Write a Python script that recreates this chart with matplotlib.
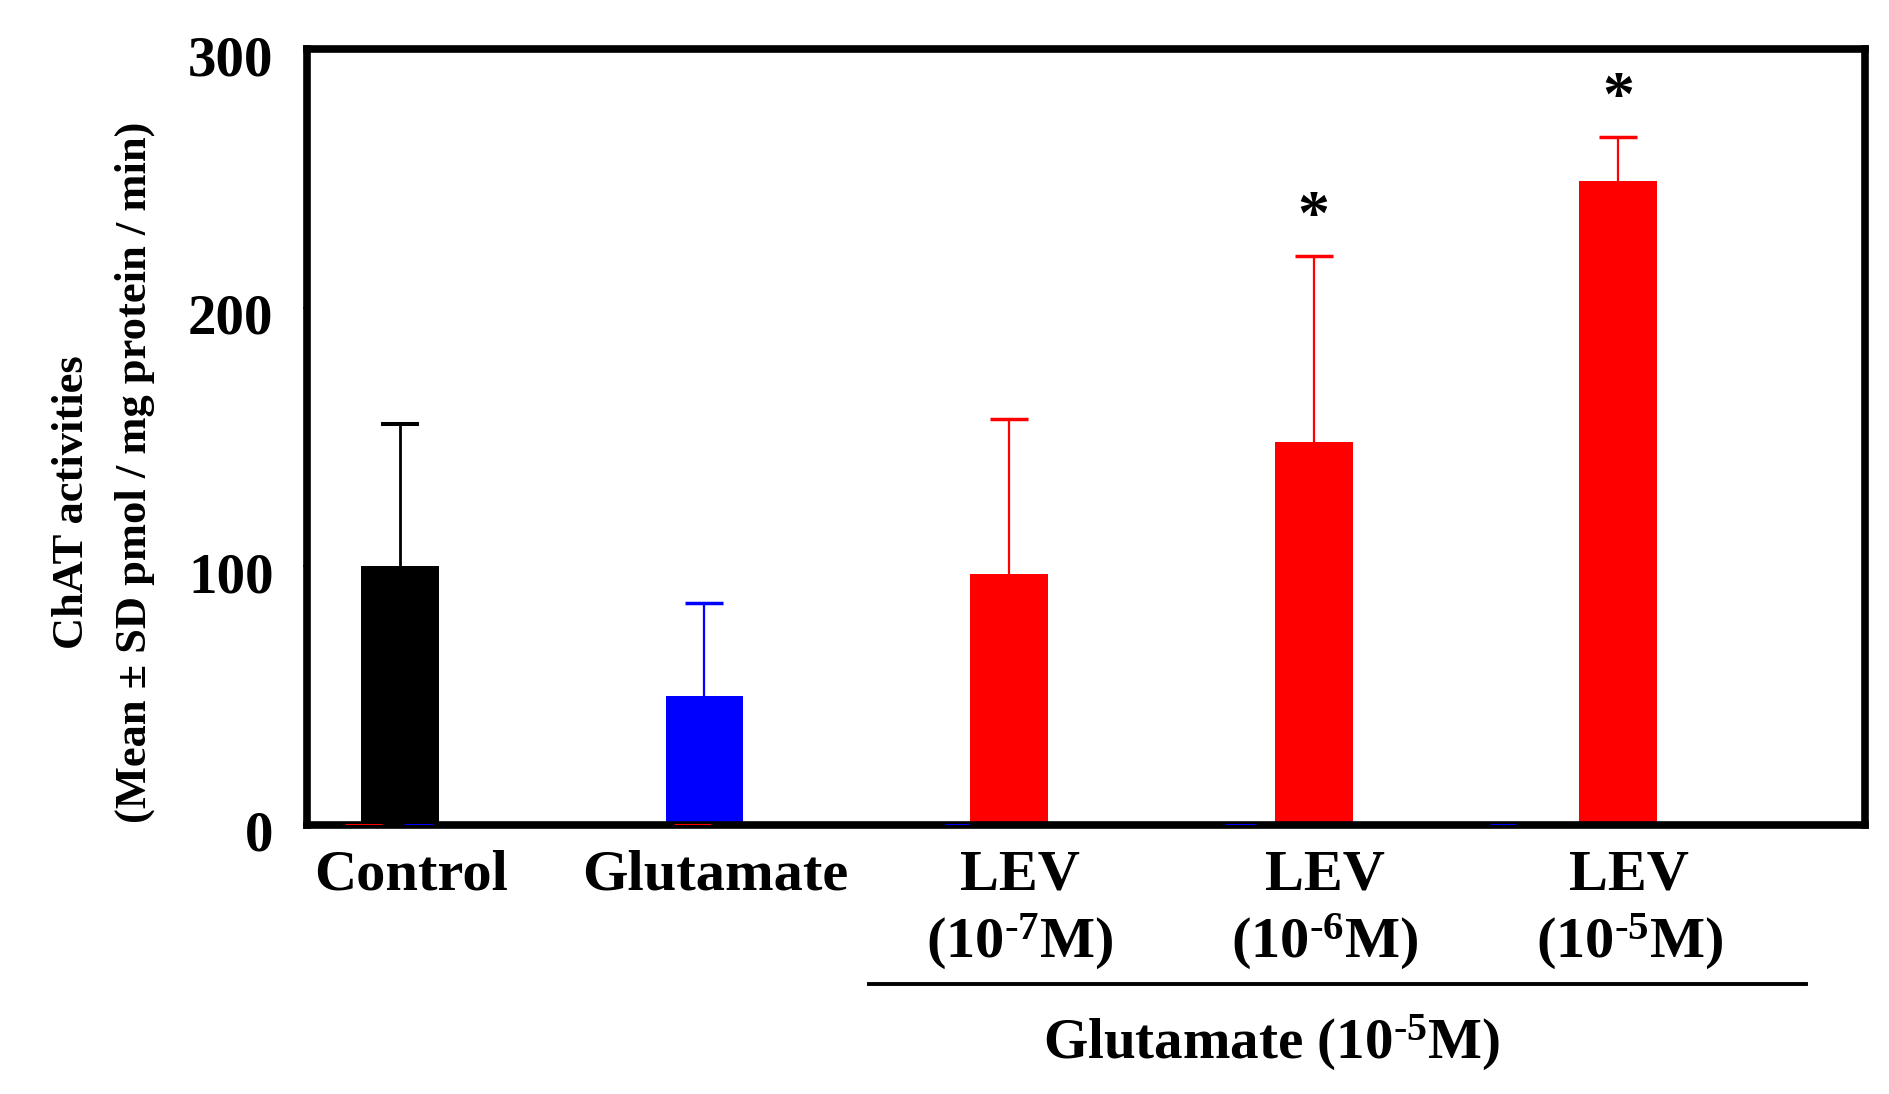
import matplotlib
matplotlib.use("Agg")
import matplotlib.pyplot as plt
import matplotlib.transforms as mtransforms
import numpy as np

# values
groups = ["Control", "Glutamate", "LEV\n(10$^{\\text{-7}}$M)", "LEV\n(10$^{\\text{-6}}$M)",
          "LEV\n(10$^{\\text{-5}}$M)"]
means = [100, 50, 97, 148, 249]
sds = [55, 36, 60, 72, 17]
bar_colors = ["#000000", "#0000FF", "#FF0000", "#FF0000", "#FF0000"]
significant = [False, False, False, True, True]
yticks = [0, 100, 200, 300]

# empty series stubs sitting on the baseline (group index, offset, width, colour)
STUBS = [
    (0, -0.12, 0.12, "#FF0000"),
    (0, 0.06, 0.095, "#0000FF"),
    (1, -0.04, 0.12, "#FF0000"),
    (2, -0.17, 0.08, "#0000FF"),
    (3, -0.24, 0.10, "#0000FF"),
    (4, -0.38, 0.085, "#0000FF"),
]


def main():
    plt.rcParams.update(
        {
            "font.family": ["Liberation Serif", "DejaVu Serif"],
            "font.weight": "bold",
            "mathtext.fontset": "custom",
            "mathtext.rm": "Liberation Serif:bold",
            "mathtext.it": "Liberation Serif:bold",
            "mathtext.bf": "Liberation Serif:bold",
            "mathtext.default": "rm",
        }
    )

    fig = plt.figure(figsize=(18.9, 10.94), dpi=100)
    ax = fig.add_axes([0.1624, 0.2459, 0.8244, 0.7093])

    x = np.arange(len(groups))
    width = 0.255

    for i, s_off, s_w, s_col in STUBS:
        ax.bar(x[i] + s_off, 0, width=s_w, bottom=0, edgecolor=s_col,
               facecolor="none", linewidth=2.2, zorder=4)

    ax.bar(x, means, width=width, color=bar_colors, zorder=2)
    for xi, m, sd, c in zip(x, means, sds, bar_colors):
        lw = 2.0 if c == "#000000" else 1.6
        ax.vlines(xi, m, m + sd, color=c, linewidth=lw, zorder=3)
        ax.plot([xi], [m + sd], marker="_", markersize=27,
                markeredgewidth=lw + 0.9, color=c, zorder=3)

    for xi, m, sd, sig in zip(x, means, sds, significant):
        if sig:
            ax.text(xi, m + sd + 3, "*", ha="center", va="bottom",
                    fontsize=46, fontweight="bold")

    ax.set_xlim(-0.305, 4.81)
    ax.set_ylim(0, 300)
    ax.set_yticks(yticks)
    ax.set_yticklabels([str(t) for t in yticks], fontsize=41, fontweight="bold")
    ax.set_xticks(x)
    ax.set_xticklabels(groups, fontsize=42, fontweight="bold", linespacing=1.22)
    ax.tick_params(axis="x", length=0, pad=18)
    ax.tick_params(axis="y", length=3, width=1.2, pad=21)
    for sp in ax.spines.values():
        sp.set_linewidth(5.5)

    # labels in the original sit a little right of / below their anchors
    shift_x = mtransforms.ScaledTranslation(0.11, 0, fig.dpi_scale_trans)
    for lab in ax.get_xticklabels():
        lab.set_transform(lab.get_transform() + shift_x)
    shift_y = mtransforms.ScaledTranslation(0, -0.06, fig.dpi_scale_trans)
    for lab in ax.get_yticklabels():
        lab.set_transform(lab.get_transform() + shift_y)

    # group bracket under the LEV treatments
    ax.plot([0.361, 0.962], [-0.205, -0.205], transform=ax.transAxes,
            color="black", linewidth=2.8, clip_on=False)
    ax.text(0.619, -0.281, "Glutamate (10$^{\\text{-5}}$M)", transform=ax.transAxes,
            ha="center", va="center", fontsize=41, fontweight="bold")

    fig.text(0.038, 0.541, "ChAT activities", rotation=90, ha="center",
             va="center", fontsize=32, fontweight="bold")
    fig.text(0.0715, 0.568, "(Mean \u00b1 SD pmol / mg protein / min)", rotation=90,
             ha="center", va="center", fontsize=32, fontweight="bold")

    fig.savefig("out.png", dpi=100)


if __name__ == "__main__":
    main()
